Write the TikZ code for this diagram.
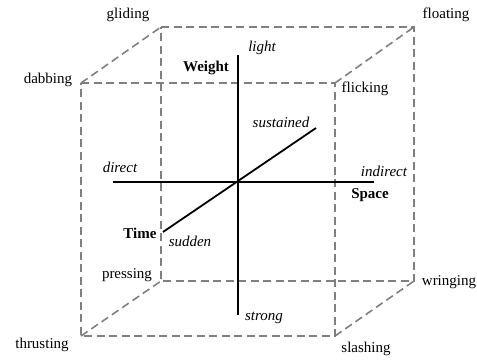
\documentclass[tikz,border=0pt]{standalone}
\usepackage{fontspec}
\setmainfont{Liberation Serif}
\usetikzlibrary{positioning}

\begin{document}
\begin{tikzpicture}[
    x=1pt, y=-1pt,
    label/.style={inner sep=0pt, font=\fontsize{15}{18}\selectfont},
    effort/.style={label, font=\fontsize{15}{18}\selectfont\bfseries},
    pole/.style={label, font=\fontsize{15}{18}\selectfont\itshape},
    edge/.style={draw=black!50, line width=1.6pt, dash pattern=on 8pt off 4.5pt},
    axis/.style={draw=black, line width=1.8pt}
]
    \useasboundingbox (0,0) rectangle (477,360);

    % Corners of the cube
    \coordinate (ftl) at (81,83);
    \coordinate (ftr) at (335,83);
    \coordinate (fbl) at (81,336);
    \coordinate (fbr) at (335,336);
    \coordinate (btl) at (161,27);
    \coordinate (btr) at (414,27);
    \coordinate (bbl) at (161,281);
    \coordinate (bbr) at (414,281);

    % Ends of the axes
    \coordinate (origin) at (238,182);
    \coordinate (wtop) at (238,55);
    \coordinate (wbot) at (238,315);
    \coordinate (sleft) at (113,182);
    \coordinate (sright) at (374,182);
    \coordinate (tfar) at (316,128);
    \coordinate (tnear) at (163,232);

    % Cube edges
    \draw[edge] (ftl) -- (ftr) -- (fbr) -- (fbl) -- cycle;
    \draw[edge] (btl) -- (btr) -- (bbr) -- (bbl) -- cycle;
    \draw[edge] (ftl) -- (btl);
    \draw[edge] (ftr) -- (btr);
    \draw[edge] (fbl) -- (bbl);
    \draw[edge] (fbr) -- (bbr);

    % Axes
    \draw[axis] (wtop) -- (wbot);
    \draw[axis] (sleft) -- (sright);
    \draw[axis] (tnear) -- (tfar);

    % Actions at the corners
    \node[label] (gliding) at (128,15) {gliding};
    \node[label] (floating) at (446,15) {floating};
    \node[label] (dabbing) at (48,80) {dabbing};
    \node[label] (flicking) at (365,89) {flicking};
    \node[label] (pressing) at (127,275) {pressing};
    \node[label] (wringing) at (449,282) {wringing};
    \node[label] (thrusting) at (42,345) {thrusting};
    \node[label] (slashing) at (366,349) {slashing};

    % Factors and poles
    \node[effort] (weight) at (206,68) {Weight};
    \node[effort] (space) at (370,195) {Space};
    \node[effort] (time) at (140,233) {Time};
    \node[pole] (light) at (262,48) {light};
    \node[pole] (strong) at (264,318) {strong};
    \node[pole] (direct) at (120,167) {direct};
    \node[pole] (indirect) at (384,171) {indirect};
    \node[pole] (sustained) at (281,122) {sustained};
    \node[pole] (sudden) at (190,241) {sudden};
\end{tikzpicture}
\end{document}
